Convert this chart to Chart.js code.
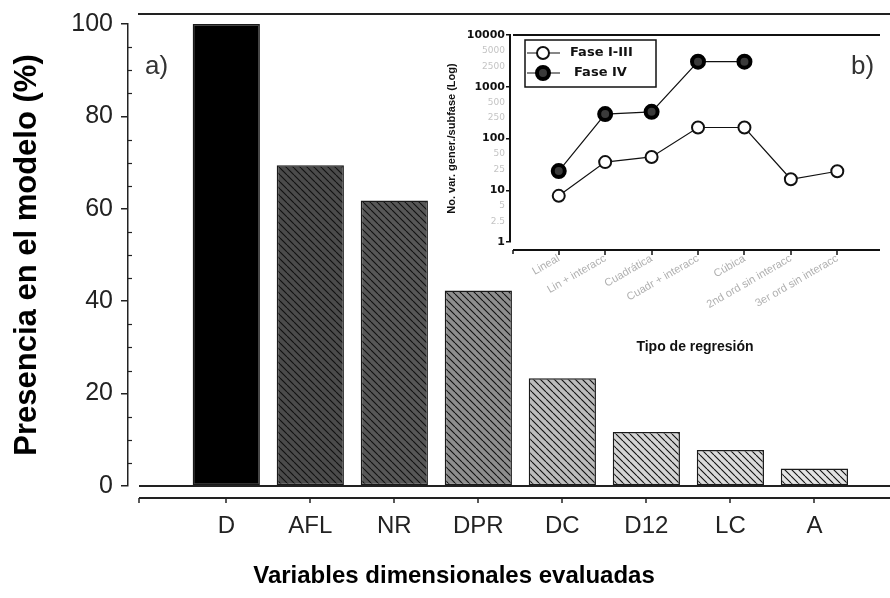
<!DOCTYPE html>
<html><head><meta charset="utf-8">
<script src="https://cdn.jsdelivr.net/npm/chart.js@4.4.0/dist/chart.umd.min.js"></script>
<style>
html,body{margin:0;padding:0;background:#fff;}
#wrap{position:relative;width:890px;height:598px;overflow:hidden;background:#fff;}
#main{position:absolute;left:0;top:0;}
#inset{position:absolute;left:420px;top:0;}
.lbl{position:absolute;font-family:"Liberation Sans",Arial,sans-serif;font-size:26px;line-height:26px;color:#333;}
</style></head><body>
<div id="wrap">
<canvas id="main" width="890" height="598"></canvas>
<canvas id="inset" width="470" height="380"></canvas>
<div class="lbl" style="left:145px;top:52px">a)</div>
<div class="lbl" style="left:851px;top:52px">b)</div>
</div>
<script>
// ---- data (main chart a) ----
const categories = ['D', 'AFL', 'NR', 'DPR', 'DC', 'D12', 'LC', 'A'];
const presence = [100, 69.4, 61.8, 42.3, 23.3, 11.7, 7.8, 3.8];
const yTicks = [0, 20, 40, 60, 80, 100];

// ---- data (inset chart b) ----
const regressionTypes = ['Lineal', 'Lin + interacc', 'Cuadrática', 'Cuadr + interacc', 'Cúbica', '2nd ord sin interacc', '3er ord sin interacc'];
const faseI_III = [7.8, 35, 44, 163, 163, 16.3, 23.3];
const faseIV = [23.5, 296, 328, 3050, 3050];
const logTicks = [1, 2.5, 5, 10, 25, 50, 100, 250, 500, 1000, 2500, 5000, 10000];
const logMajor = [1, 10, 100, 1000, 10000];

// ---- styles ----
const barBase = ['#000000', '#4b4b4b', '#575757', '#8e8e8e', '#bdbdbd', '#d4d4d4', '#dadada', '#e3e3e3'];
const barHatched = [false, true, true, true, true, true, true, true];
const FAM = '"Liberation Sans", Arial, sans-serif';

function hatch(base) {
  const s = 7;
  const c = document.createElement('canvas');
  c.width = s; c.height = s;
  const g = c.getContext('2d');
  g.fillStyle = base; g.fillRect(0, 0, s, s);
  g.strokeStyle = '#111'; g.lineWidth = 1.1;
  g.beginPath();
  for (const o of [-s, 0, s]) { g.moveTo(o, 0); g.lineTo(o + s, s); }
  g.stroke();
  return g.createPattern(c, 'repeat');
}
const barFills = barBase.map((b, i) => barHatched[i] ? hatch(b) : b);

function seg(ctx, x1, y1, x2, y2) { ctx.beginPath(); ctx.moveTo(x1, y1); ctx.lineTo(x2, y2); ctx.stroke(); }

const mainDecor = {
  id: 'mainDecor',
  afterDraw(chart) {
    const { ctx, chartArea: { left, right, top, bottom }, scales: { x, y } } = chart;
    ctx.save();
    ctx.strokeStyle = '#222';
    ctx.lineWidth = 2;
    seg(ctx, left + 10, top - 10, right, top - 10);      // top frame line
    seg(ctx, left + 11, bottom, right, bottom);          // baseline
    const ay = bottom + 12;
    seg(ctx, left + 11, ay, right, ay);                  // x axis line
    ctx.lineWidth = 1.5;
    seg(ctx, left + 11, ay, left + 11, ay + 5);
    x.ticks.forEach(t => { const px = Math.round(x.getPixelForValue(t.value)); seg(ctx, px, ay, px, ay + 5); });
    ctx.lineWidth = 1.2;
    for (let v = 5; v < 100; v += 5) {
      if (v % 20 === 0) continue;
      const py = Math.round(y.getPixelForValue(v)) + 0.5;
      seg(ctx, left, py, left + 4, py);
    }
    ctx.restore();
  }
};

new Chart(document.getElementById('main'), {
  type: 'bar',
  data: {
    datasets: [{
      label: 'Presencia en el modelo (%)',
      data: categories.map((c, i) => ({ x: i, y: presence[i] })),
      backgroundColor: barFills,
      borderColor: '#1a1a1a',
      borderWidth: 1.5,
      borderSkipped: false,
      barPercentage: 0.8,
      categoryPercentage: 1
    }]
  },
  options: {
    responsive: false, animation: false, devicePixelRatio: 1,
    layout: { padding: { top: 24, left: 18, right: 0, bottom: 0 } },
    plugins: {
      legend: { display: false }, tooltip: { enabled: false },
      title: { display: true, position: 'bottom', fullSize: true, align: 'center', text: 'Variables dimensionales evaluadas', color: '#000',
        font: { family: FAM, size: 24, weight: 'bold', lineHeight: 1.2 }, padding: { top: 0, bottom: 7 } }
    },
    scales: {
      x: {
        type: 'linear', min: -1.17, max: 7.9, offset: false,
        afterBuildTicks: s => { s.ticks = categories.map((c, i) => ({ value: i })); },
        grid: { display: false, drawTicks: false },
        border: { display: false },
        ticks: { autoSkip: false, maxRotation: 0, padding: 26, callback: v => categories[v], color: '#222', font: { family: FAM, size: 24 } },
        afterFit: s => { s.height = 76.2; }
      },
      y: {
        min: 0, max: 100,
        afterBuildTicks: s => { s.ticks = yTicks.map(v => ({ value: v })); },
        grid: { display: true, drawOnChartArea: false, drawTicks: true, tickLength: 7, color: '#222', lineWidth: 1.5 },
        border: { display: true, color: '#222', width: 1.5 },
        ticks: { padding: 8, color: '#222', font: { family: FAM, size: 25 } },
        title: { display: true, text: 'Presencia en el modelo (%)', color: '#000', font: { family: FAM, size: 31, weight: 'bold', lineHeight: 0.6 }, padding: { top: 0, bottom: 0 } },
        afterFit: s => { s.width = 110; }
      }
    }
  },
  plugins: [mainDecor]
});

// ---- inset ----
function drawMarker(ctx, x, y, ds) {
  ctx.save();
  ctx.beginPath();
  ctx.arc(x, y, ds.pointRadius, 0, Math.PI * 2);
  ctx.fillStyle = ds.pointBackgroundColor;
  ctx.fill();
  ctx.lineWidth = ds.pointBorderWidth;
  ctx.strokeStyle = ds.pointBorderColor;
  ctx.stroke();
  ctx.restore();
}

const insetDecor = {
  id: 'insetDecor',
  afterDraw(chart) {
    const { ctx, chartArea: { left, right, top, bottom }, scales: { x } } = chart;
    ctx.save();
    ctx.strokeStyle = '#111';
    ctx.lineWidth = 2;
    seg(ctx, left + 3, top, right, top);
    const ay = bottom + 8;
    seg(ctx, left + 3, ay, right, ay);
    ctx.lineWidth = 1.5;
    seg(ctx, left + 3, ay, left + 3, ay + 4);
    x.ticks.forEach(t => { const px = Math.round(x.getPixelForValue(t.value)); seg(ctx, px, ay, px, ay + 5); });
    // legend box
    const bx = left + 15, by = top + 5, bw = 131, bh = 47;
    ctx.lineWidth = 1.5;
    ctx.strokeRect(bx, by, bw, bh);
    chart.data.datasets.forEach((ds, i) => {
      const ly = by + 13 + i * 20;
      ctx.lineWidth = 1.2; ctx.strokeStyle = '#111';
      seg(ctx, bx + 2, ly, bx + 35, ly);
      drawMarker(ctx, bx + 18, ly, ds);
      ctx.fillStyle = '#111';
      ctx.font = 'bold 13px "DejaVu Sans", sans-serif';
      ctx.textBaseline = 'middle';
      ctx.textAlign = 'left';
      ctx.fillText(ds.label, bx + 45 + i * 4, ly);
    });
    ctx.restore();
  }
};

const pt = (arr) => arr.map((v, i) => ({ x: i, y: v }));

new Chart(document.getElementById('inset'), {
  type: 'line',
  data: {
    datasets: [
      { label: 'Fase I-III', data: pt(faseI_III), borderColor: '#111', borderWidth: 1.2, tension: 0, fill: false,
        pointRadius: 6, pointBackgroundColor: '#ffffff', pointBorderColor: '#111', pointBorderWidth: 2 },
      { label: 'Fase IV', data: pt(faseIV), borderColor: '#111', borderWidth: 1.2, tension: 0, fill: false,
        pointRadius: 6, pointBackgroundColor: '#3a3a3a', pointBorderColor: '#000', pointBorderWidth: 4 }
    ]
  },
  options: {
    responsive: false, animation: false, devicePixelRatio: 1,
    layout: { padding: { top: 35, left: 0, right: 0, bottom: 0 } },
    plugins: { legend: { display: false }, tooltip: { enabled: false } },
    scales: {
      x: {
        type: 'linear', min: -1.05, max: 6.92, offset: false,
        afterBuildTicks: s => { s.ticks = regressionTypes.map((c, i) => ({ value: i })); },
        grid: { display: false, drawTicks: false },
        border: { display: false },
        ticks: { autoSkip: false, minRotation: 30, maxRotation: 30, padding: 10, callback: v => regressionTypes[v], color: '#b0b0b0', font: { family: FAM, size: 11 } },
        title: { display: true, text: 'Tipo de regresión', color: '#111', font: { family: FAM, size: 14, weight: 'bold' }, padding: { top: 0, bottom: 24 } },
        afterFit: s => { s.height = 138; }
      },
      y: {
        type: 'logarithmic', min: 1, max: 10000,
        afterBuildTicks: s => { s.ticks = logTicks.map(v => ({ value: v })); },
        grid: { display: true, drawOnChartArea: false, drawTicks: true, tickLength: 4, lineWidth: 1.5,
          color: c => (c.tick && logMajor.includes(c.tick.value)) ? '#111' : 'rgba(0,0,0,0)' },
        border: { display: true, color: '#111', width: 2 },
        ticks: { autoSkip: false, padding: 1, callback: v => String(v),
          color: c => (c.tick && logMajor.includes(c.tick.value)) ? '#111' : '#c4c4c4',
          font: c => (c.tick && logMajor.includes(c.tick.value)) ? { family: '"DejaVu Sans", sans-serif', size: 11, weight: 'bold' } : { family: '"DejaVu Sans", sans-serif', size: 9 } },
        title: { display: true, text: 'No. var. gener./subfase (Log)', color: '#111', font: { family: FAM, size: 11, weight: 'bold' }, padding: { top: 25, bottom: 0 } },
        afterFit: s => { s.width = 90; }
      }
    }
  },
  plugins: [insetDecor]
});
</script>
</body></html>
